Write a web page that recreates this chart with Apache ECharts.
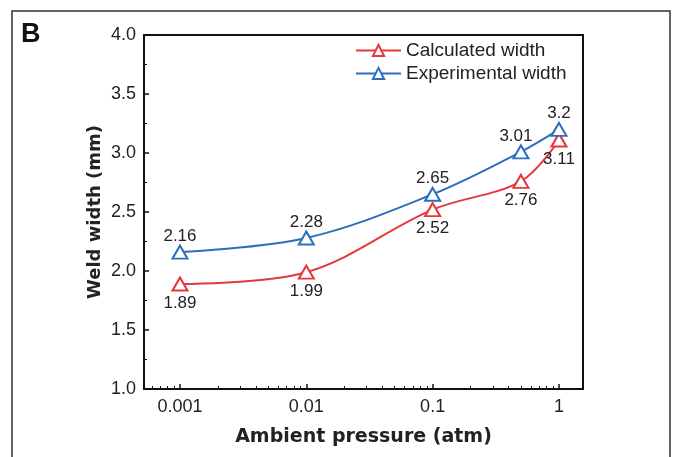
<!DOCTYPE html>
<html><head><meta charset="utf-8">
<script src="https://cdn.jsdelivr.net/npm/echarts@6/dist/echarts.min.js"></script>
<style>html,body{margin:0;padding:0;background:#fff}#c{width:676px;height:457px}</style>
</head><body><div id="c"></div>
<script>
var pressures = [0.001, 0.01, 0.1, 0.5, 1];
var calculated = [1.89, 1.99, 2.52, 2.76, 3.11];
var experimental = [2.16, 2.28, 2.65, 3.01, 3.2];
var xTickLabels = ['0.001', '0.01', '0.1', '1'];
var seriesNames = ['Calculated width', 'Experimental width'];

var FONT = '"Liberation Sans", Arial, sans-serif';
var TFONT = '"DejaVu Sans", "Liberation Sans", sans-serif';
var RED = '#e6373a', BLUE = '#2d6fbe';
function pairs(ys){ return pressures.map(function(p,i){ return [p, ys[i]]; }); }

var chart = echarts.init(document.getElementById('c'));
chart.setOption({
  backgroundColor: '#fff',
  animation: false,
  graphic: [
    {type:'rect', shape:{x:12, y:11, width:658, height:470}, style:{fill:'none', stroke:'#333', lineWidth:1.5}, silent:true},
    {type:'text', left:21, top:21, style:{text:'B', font:'bold 27px ' + FONT, fill:'#111'}}
  ],
  grid: {left:144, right:93, top:35, bottom:68, show:true, borderColor:'#111', borderWidth:2, backgroundColor:'#fff'},
  legend: {
    orient:'vertical', left:355, top:41, padding:0, itemGap:4, itemWidth:45, itemHeight:14,
    textStyle:{fontFamily:FONT, fontSize:19, color:'#222'},
    data: seriesNames
  },
  xAxis: {
    type:'log', logBase:10, min:0.000519, max:1.55,
    name:'Ambient pressure (atm)', nameLocation:'middle', nameGap:39,
    nameTextStyle:{fontFamily:TFONT, fontSize:19, fontWeight:'bold', color:'#222'},
    axisLine:{lineStyle:{color:'#111', width:2}},
    axisTick:{inside:true, length:5, lineStyle:{color:'#111', width:1.5}},
    minorTick:{show:true, splitNumber:9, length:3, lineStyle:{color:'#111', width:1}},
    splitLine:{show:false},
    axisLabel:{showMinLabel:false, showMaxLabel:false, margin:9, fontFamily:FONT, fontSize:18, color:'#222',
      formatter:function(v){ var l = xTickLabels.filter(function(s){ return Math.abs(parseFloat(s)-v) < v*1e-6; }); return l.length ? l[0] : ''; }}
  },
  yAxis: {
    type:'value', min:1, max:4, interval:0.5,
    name:'Weld width (mm)', nameLocation:'middle', nameGap:40, nameMoveOverlap:false,
    nameTextStyle:{fontFamily:TFONT, fontSize:18, fontWeight:'bold', color:'#222'},
    axisLine:{show:true, lineStyle:{color:'#111', width:2}},
    axisTick:{show:true, inside:true, length:5, lineStyle:{color:'#111', width:1.5}},
    minorTick:{show:true, splitNumber:2, length:3, lineStyle:{color:'#111', width:1}},
    splitLine:{show:false},
    axisLabel:{margin:8, fontFamily:FONT, fontSize:18, color:'#222', formatter:function(v){ return v.toFixed(1); }}
  },
  series: [
    {name:seriesNames[0], type:'line', data:pairs(calculated), smooth:0.35,
     symbol:'emptyTriangle', symbolSize:[15,13], itemStyle:{color:RED, borderWidth:1.5}, lineStyle:{color:RED, width:2},
     label:{show:true, position:'bottom', distance:3, fontFamily:FONT, fontSize:17, color:'#222'}},
    {name:seriesNames[1], type:'line', data:pairs(experimental), smooth:0.35,
     symbol:'emptyTriangle', symbolSize:[15,13], itemStyle:{color:BLUE, borderWidth:1.5}, lineStyle:{color:BLUE, width:2},
     label:{show:true, position:'top', distance:0, fontFamily:FONT, fontSize:17, color:'#222'},
     labelLayout:function(p){ return p.dataIndex===3 ? {dx:-5} : {}; }}
  ]
});
</script></body></html>
